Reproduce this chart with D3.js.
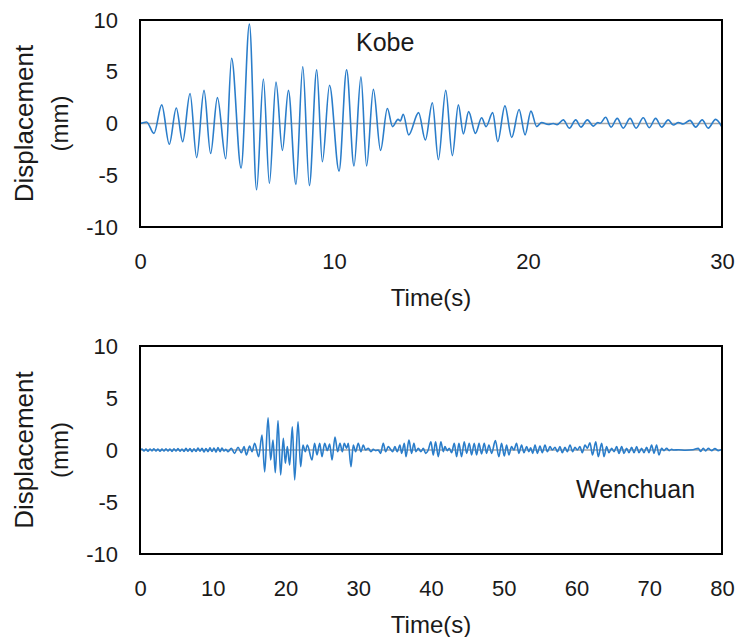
<!DOCTYPE html>
<html>
<head>
<meta charset="utf-8">
<script src="https://cdn.jsdelivr.net/npm/d3@7"></script>
<style>
  html, body { margin: 0; padding: 0; background: #fff; }
  svg { display: block; }
  text { font-family: "Liberation Sans", Arial, sans-serif; fill: #1a1a1a; }
</style>
</head>
<body>
<svg id="chart" width="742" height="637"></svg>
<script>
// Displacement time histories: peak / trough samples [time (s), displacement (mm)]
const kobeTime = [0,0.34,0.72,1.12,1.51,1.87,2.2,2.58,2.92,3.3,3.64,3.99,4.42,4.72,5.21,5.64,6.01,6.36,6.67,7.01,7.34,7.65,8.04,8.39,8.73,9.11,9.4,9.77,10.26,10.65,11.03,11.39,11.68,12.03,12.4,12.75,13.02,13.3,13.42,13.57,13.85,14.36,14.71,15.07,15.38,15.76,16.1,16.41,16.67,16.94,17.29,17.61,17.84,18.18,18.44,18.81,19.16,19.54,19.85,20.15,20.45,20.7,21.05,21.3,21.5,21.82,22.13,22.46,22.73,23.06,23.37,23.6,23.72,24.0,24.28,24.6,24.91,25.26,25.57,25.94,26.25,26.58,26.89,27.23,27.49,27.75,28.0,28.35,28.64,28.98,29.29,29.67,30];
const kobeDisp = [0,0.15,-0.95,1.8,-2.0,1.5,-1.75,2.9,-3.3,3.2,-2.9,2.5,-3.4,6.3,-4.3,9.6,-6.4,4.3,-5.8,4.0,-2.6,3.2,-5.9,5.5,-6.0,5.2,-3.7,3.7,-4.6,5.2,-4.1,4.5,-4.1,3.3,-2.6,1.45,-0.3,0.4,0.25,0.9,-1.1,1.05,-1.6,2.0,-3.5,3.2,-3.1,1.8,-1.0,1.15,-0.95,0.55,-0.3,1.05,-1.75,1.7,-1.35,1.35,-1.1,1.2,-0.3,0.1,-0.1,0.0,-0.12,0.35,-0.45,0.35,-0.35,0.35,-0.25,0.1,0.02,0.6,-0.35,0.5,-0.45,0.5,-0.45,0.55,-0.4,0.5,-0.35,0.35,-0.15,0.1,-0.05,0.3,-0.35,0.35,-0.45,0.4,-0.35];

const wenTime = [0,0.27,0.55,0.82,1.1,1.37,1.65,1.92,2.2,2.47,2.75,3.02,3.3,3.57,3.85,4.12,4.4,4.67,4.95,5.22,5.5,5.77,6.05,6.32,6.6,6.87,7.15,7.42,7.7,7.97,8.25,8.52,8.8,9.07,9.35,9.62,9.9,10.17,10.45,10.72,11.0,11.27,11.55,11.8,12.1,12.55,13.0,13.47,13.93,14.3,14.62,15.07,15.4,15.76,16.31,16.77,17.14,17.6,17.96,18.28,18.6,18.97,19.33,19.7,19.98,20.25,20.57,20.94,21.26,21.72,22.08,22.4,22.72,23.0,23.64,24.0,24.33,24.7,25.02,25.38,25.75,26.07,26.4,26.8,27.17,27.49,27.81,28.08,28.4,28.63,29.0,29.32,29.64,30.0,30.37,30.69,31.0,31.38,31.75,32.07,32.39,32.75,33.07,33.44,33.76,34.13,34.45,34.72,35.04,35.36,35.73,35.96,36.33,36.56,36.97,37.33,37.65,37.93,38.25,38.62,38.94,39.26,39.62,39.99,40.31,40.63,41.0,41.36,41.69,41.91,42.23,42.51,42.83,43.2,43.52,43.84,44.2,44.57,44.89,45.26,45.58,45.94,46.27,46.59,46.95,47.32,47.64,47.96,48.33,48.85,49.33,49.7,50.07,50.39,50.71,51.07,51.39,51.76,52.08,52.45,52.77,53.14,53.46,53.7,53.98,54.3,54.62,54.98,55.3,55.67,55.99,56.36,56.68,57.05,57.37,57.73,58.05,58.42,58.74,59.11,59.47,59.79,60.11,60.48,60.8,61.17,61.49,61.85,62.2,62.65,62.99,63.46,63.78,64.14,64.46,64.83,65.15,65.52,65.84,66.21,66.53,66.89,67.21,67.58,67.9,68.27,68.59,68.95,69.27,69.64,69.96,70.33,70.65,71.01,71.33,71.7,72.02,72.39,72.75,73.07,73.4,74.0,75.0,76.0,76.74,77.06,77.43,77.75,78.11,78.57,79.03,79.49,79.95];
const wenDisp = [0,0.1,-0.1,0.08,-0.12,0.1,-0.08,0.12,-0.1,0.1,-0.12,0.08,-0.1,0.12,-0.1,0.1,-0.14,0.12,-0.1,0.14,-0.12,0.1,-0.14,0.16,-0.12,0.14,-0.16,0.12,-0.14,0.18,-0.12,0.16,-0.18,0.14,-0.16,0.2,-0.14,0.18,-0.2,0.24,-0.16,0.18,-0.1,0.06,-0.16,0.16,-0.32,0.26,-0.26,0.32,-0.48,0.38,-0.16,0.64,-0.64,1.44,-2.1,3.1,-0.96,0.96,-2.18,2.82,-2.4,1.12,-1.28,0.32,-1.44,2.24,-2.88,2.72,-1.6,0.48,-0.16,0.48,-0.96,0.64,-0.48,0.64,-0.64,0.64,-0.05,0.58,-0.96,1.25,-0.16,0.64,-0.16,0.64,0.16,0.64,-1.6,0.48,-0.16,0.64,-0.16,0.48,0.0,0.16,-0.16,0.06,-0.06,0.0,-0.32,0.64,-0.16,0.32,0.06,-0.16,0.32,-0.16,0.48,-0.32,0.64,-0.64,0.96,-0.32,0.64,-0.16,0.16,-0.16,0.16,-0.32,0.0,0.8,-0.48,0.8,-0.64,0.8,-0.16,0.32,-0.06,0.16,-0.26,0.64,-0.64,0.64,-0.64,0.8,-0.32,0.64,-0.48,0.64,-0.48,0.64,-0.38,0.64,-0.32,0.48,-0.32,0.9,-0.64,0.64,-0.58,0.48,-0.48,0.32,0.0,0.64,-0.32,0.48,-0.26,0.32,-0.16,0.2,-0.32,0.48,-0.32,0.38,-0.26,0.48,-0.16,0.32,0.0,0.26,-0.16,0.32,-0.26,0.26,-0.16,0.48,-0.16,0.26,0.0,0.32,-0.26,0.48,0.16,0.7,-0.48,0.8,-0.64,0.64,-0.64,0.32,-0.26,0.16,-0.16,0.32,-0.32,0.32,-0.32,0.16,-0.26,0.26,-0.26,0.32,-0.26,0.16,-0.26,0.26,-0.26,0.48,-0.32,0.48,-0.48,0.16,-0.06,0.16,-0.06,0.06,0.0,0.03,-0.02,0.02,0.16,-0.13,0.16,-0.1,0.16,-0.06,0.13,-0.06,0.06];

const yTicks = [-10, -5, 0, 5, 10];
const kobeXTicks = [0, 10, 20, 30];
const wenXTicks = [0, 10, 20, 30, 40, 50, 60, 70, 80];

const panels = [
  { name: "Kobe", time: kobeTime, disp: kobeDisp, xMax: 30, xTicks: kobeXTicks,
    top: 20, bottom: 227, label: { x: 356, y: 51 } },
  { name: "Wenchuan", time: wenTime, disp: wenDisp, xMax: 80, xTicks: wenXTicks,
    top: 346, bottom: 554, label: { x: 576, y: 498 } }
];

const svg = d3.select("#chart");
const left = 140, right = 722;
const lineColor = "#2a7dca";
const fontFamily = "Liberation Sans, Arial, sans-serif";
const plainNumber = d => String(d);   // hyphen-minus, as in the source labels

panels.forEach((p, i) => {
  const x = d3.scaleLinear().domain([0, p.xMax]).range([left, right]);
  const y = d3.scaleLinear().domain([-10, 10]).range([p.bottom, p.top]);
  const g = svg.append("g");

  const clipId = "clip" + i;
  g.append("clipPath").attr("id", clipId)
    .append("rect").attr("x", left).attr("y", p.top)
    .attr("width", right - left).attr("height", p.bottom - p.top);

  // zero line (horizontal axis)
  g.append("line")
    .attr("x1", left).attr("x2", right)
    .attr("y1", y(0)).attr("y2", y(0))
    .attr("stroke", "#a6a6a6").attr("stroke-width", 1.5);

  const pts = p.time.map((t, k) => [t, p.disp[k]]);
  const line = d3.line()
    .x(d => x(d[0])).y(d => y(d[1]))
    .curve(d3.curveMonotoneX);
  g.append("path")
    .attr("clip-path", `url(#${clipId})`)
    .attr("d", line(pts))
    .attr("fill", "none")
    .attr("stroke", lineColor)
    .attr("stroke-width", 1.6)
    .attr("stroke-linejoin", "round");

  // plot frame
  g.append("rect")
    .attr("x", left).attr("y", p.top)
    .attr("width", right - left).attr("height", p.bottom - p.top)
    .attr("fill", "none").attr("stroke", "#000").attr("stroke-width", 2);

  // y axis labels
  const yAxis = d3.axisLeft(y).tickValues(yTicks).tickFormat(plainNumber)
    .tickSize(0).tickPadding(22);
  const ya = g.append("g").attr("transform", `translate(${left},0)`).call(yAxis);
  ya.select(".domain").remove();
  ya.selectAll("text").attr("font-size", 22).attr("fill", "#1a1a1a")
    .attr("font-family", fontFamily);

  // x axis labels
  const xAxis = d3.axisBottom(x).tickValues(p.xTicks).tickFormat(plainNumber)
    .tickSize(0).tickPadding(26);
  const xa = g.append("g").attr("transform", `translate(0,${p.bottom})`).call(xAxis);
  xa.select(".domain").remove();
  xa.selectAll("text").attr("font-size", 22).attr("fill", "#1a1a1a")
    .attr("font-family", fontFamily);

  // axis titles
  const midY = (p.top + p.bottom) / 2;
  g.append("text")
    .attr("transform", `translate(33,${midY}) rotate(-90)`)
    .attr("text-anchor", "middle").attr("font-size", 26)
    .text("Displacement");
  g.append("text")
    .attr("transform", `translate(68,${midY}) rotate(-90)`)
    .attr("text-anchor", "middle").attr("font-size", 24)
    .text("(mm)");
  g.append("text")
    .attr("x", (left + right) / 2).attr("y", p.bottom + 79)
    .attr("text-anchor", "middle").attr("font-size", 24)
    .text("Time(s)");

  // record name
  g.append("text")
    .attr("x", p.label.x).attr("y", p.label.y)
    .attr("font-size", 25)
    .text(p.name);
});
</script>
</body>
</html>
